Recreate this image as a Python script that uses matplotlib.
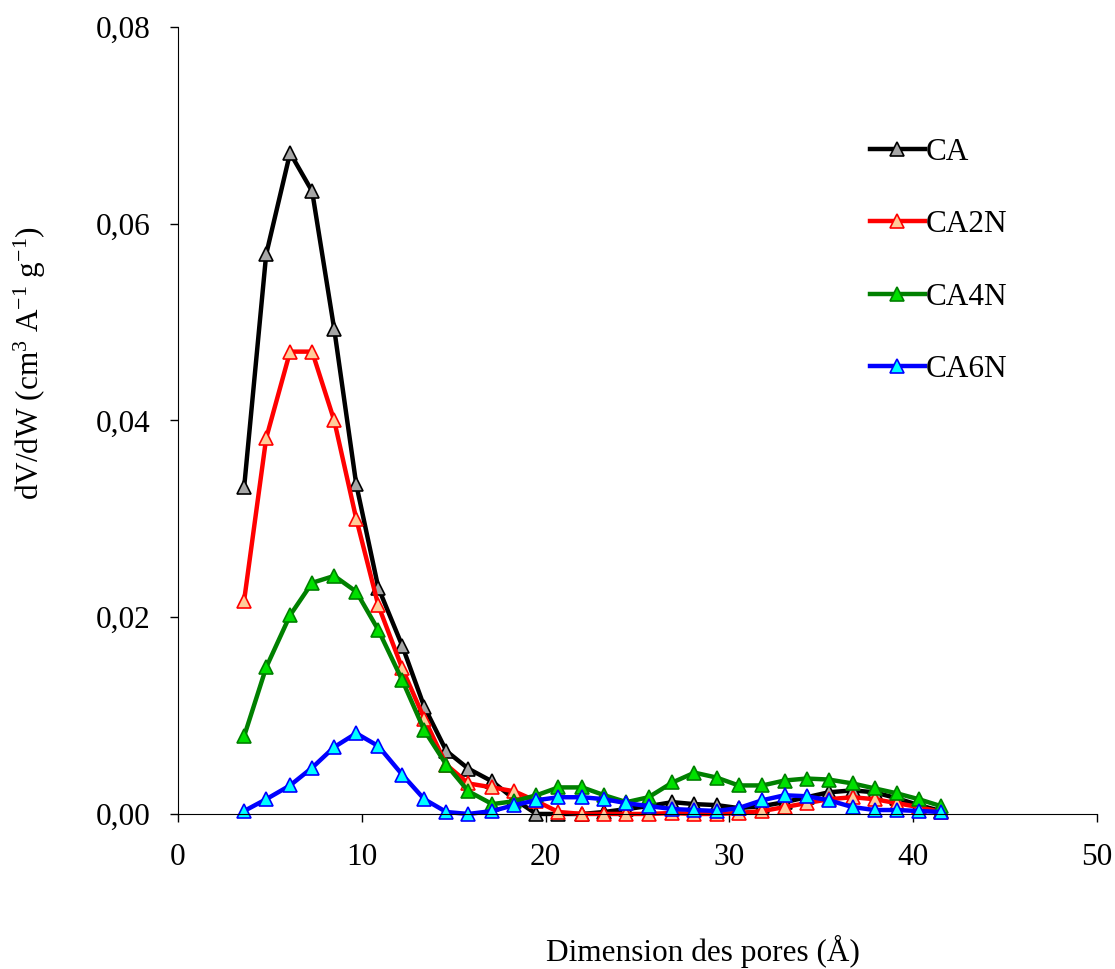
import matplotlib
matplotlib.use("Agg")
import matplotlib.pyplot as plt
from matplotlib.ticker import FuncFormatter

plt.rcParams['font.family'] = ['Liberation Serif', 'DejaVu Serif']
plt.rcParams['mathtext.fontset'] = 'custom'
plt.rcParams['mathtext.rm'] = 'Liberation Serif'
plt.rcParams['mathtext.it'] = 'Liberation Serif:italic'

# pore width (A)
pores = [3.6, 4.8, 6.1, 7.3, 8.5, 9.7, 10.9, 12.2, 13.4, 14.6, 15.8, 17.1, 18.3, 19.5, 20.7, 22.0,
         23.2, 24.4, 25.6, 26.9, 28.1, 29.3, 30.5, 31.8, 33.0, 34.2, 35.4, 36.7, 37.9, 39.1, 40.3, 41.5]

ca = [0.0332, 0.0569, 0.0672, 0.0633, 0.0493, 0.0335, 0.0230, 0.0171, 0.0109, 0.0064, 0.0046, 0.0033,
      0.0015, 0.0000, 0.0000, 0.0000, 0.0002, 0.0005, 0.0008, 0.0012, 0.0010, 0.0009, 0.0006, 0.0008,
      0.0012, 0.0017, 0.0022, 0.0024, 0.0022, 0.0016, 0.0009, 0.0003]
ca2n = [0.0217, 0.0382, 0.0470, 0.0470, 0.0400, 0.0300, 0.0212, 0.0148, 0.0097, 0.0050, 0.0031, 0.0027,
        0.0023, 0.0013, 0.0002, 0.0000, 0.0000, 0.0000, 0.0000, 0.0001, 0.0000, 0.0000, 0.0001, 0.0003,
        0.0007, 0.0011, 0.0015, 0.0017, 0.0015, 0.0011, 0.0007, 0.0002]
ca4n = [0.0079, 0.0149, 0.0202, 0.0235, 0.0242, 0.0226, 0.0187, 0.0136, 0.0085, 0.0050, 0.0023, 0.0010,
        0.0013, 0.0019, 0.0027, 0.0027, 0.0019, 0.0012, 0.0017, 0.0032, 0.0042, 0.0037, 0.0029, 0.0029,
        0.0034, 0.0036, 0.0035, 0.0031, 0.0026, 0.0021, 0.0015, 0.0008]
ca6n = [0.0003, 0.0015, 0.0029, 0.0047, 0.0068, 0.0082, 0.0069, 0.0040, 0.0015, 0.0002, 0.0000, 0.0003,
        0.0009, 0.0014, 0.0017, 0.0017, 0.0015, 0.0011, 0.0008, 0.0005, 0.0004, 0.0003, 0.0006, 0.0014,
        0.0019, 0.0018, 0.0014, 0.0007, 0.0004, 0.0004, 0.0003, 0.0002]

fs = 22.5

fig = plt.figure(figsize=(11.15, 9.69), dpi=100)
ax = fig.add_axes([0.1596, 0.16, 0.8243, 0.8121])

series = [
    ('CA', ca, 'black', '#a6a6a6', 'black'),
    ('CA2N', ca2n, 'red', '#ffcc99', 'red'),
    ('CA4N', ca4n, 'green', '#00e000', 'green'),
    ('CA6N', ca6n, 'blue', '#00ffff', 'blue'),
]
for name, vals, lc, fc, ec in series:
    ax.plot(pores, vals, color=lc, lw=3.2, marker='^', ms=10, mfc=fc, mec=ec, mew=1.2,
            label=name, clip_on=False)

ax.set_xlim(0, 50)
ax.set_ylim(0, 0.08)
ax.set_xticks(range(0, 51, 10))
ax.set_yticks([0, 0.02, 0.04, 0.06, 0.08])
ax.yaxis.set_major_formatter(FuncFormatter(lambda v, p: ('%.2f' % v).replace('.', ',')))
ax.spines['top'].set_visible(False)
ax.spines['right'].set_visible(False)
ax.tick_params(direction='out', length=6, width=1, labelsize=fs)
ax.tick_params(axis='x', pad=15)
ax.tick_params(axis='y', pad=14)

ax.set_xlabel('Dimension des pores (Å)', fontsize=fs)
ax.xaxis.set_label_coords(0.571, -0.154)
ax.set_ylabel(r'dV/dW (cm$^3$ A$^{-1}$ g$^{-1}$)', fontsize=fs)
ax.yaxis.set_label_coords(-0.141, 0.573)

ax.legend(loc='upper left', bbox_to_anchor=(0.739, 0.875), frameon=False, fontsize=fs,
          handlelength=1.76, handletextpad=0.05, labelspacing=1.39, borderaxespad=0)

fig.savefig('out.png', dpi=100)
